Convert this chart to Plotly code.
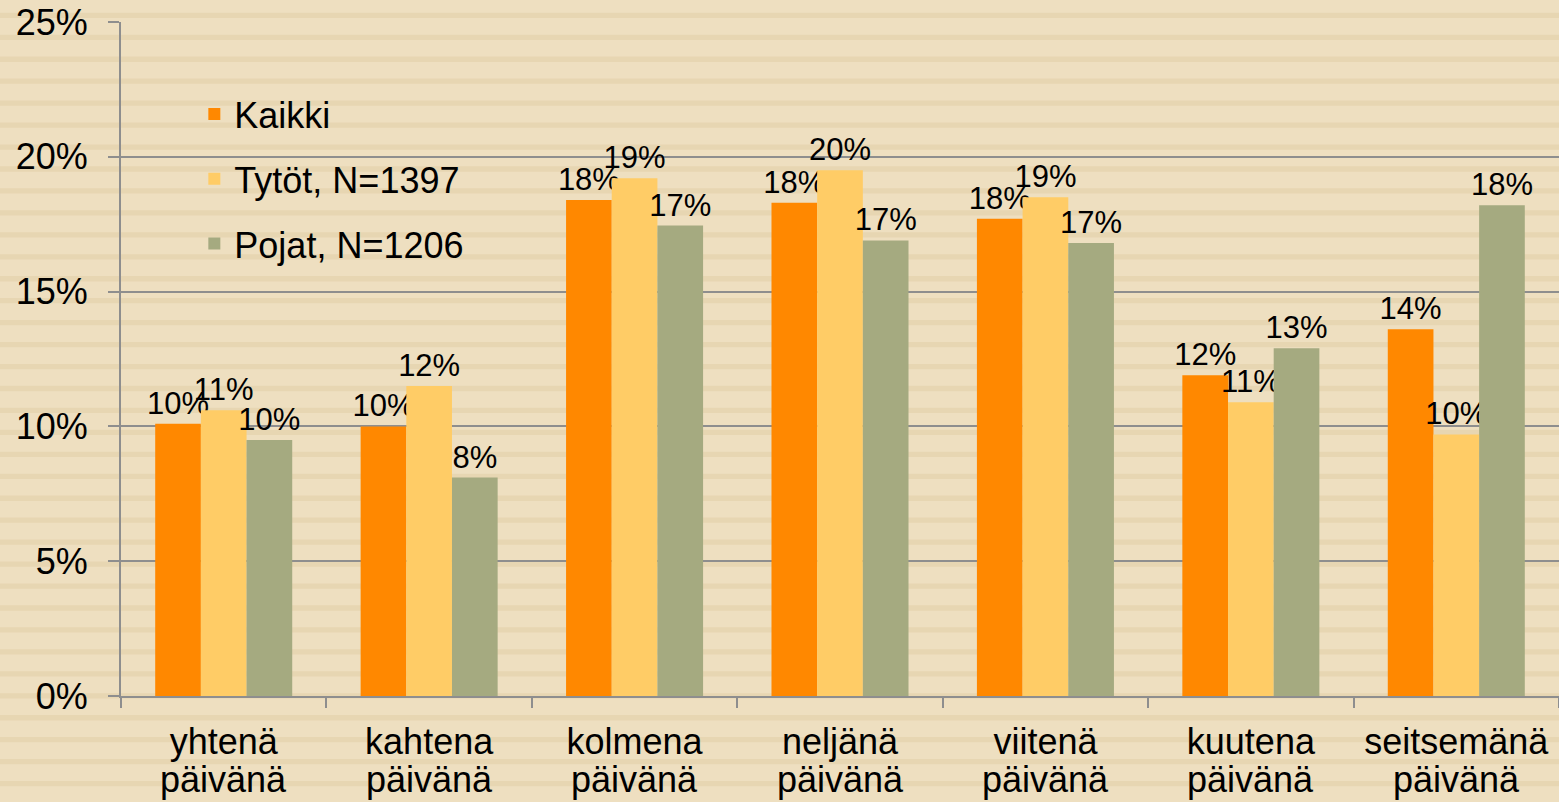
import plotly.graph_objects as go

# kuinka monena päivänä viikossa, osuus vastaajista (%)
categories = ['yhtenä', 'kahtena', 'kolmena', 'neljänä', 'viitenä', 'kuutena', 'seitsemänä']
second_line = 'päivänä'
kaikki = [10.1, 10.0, 18.4, 18.3, 17.7, 11.9, 13.6]
tytot = [10.6, 11.5, 19.2, 19.5, 18.5, 10.9, 9.7]
pojat = [9.5, 8.1, 17.45, 16.9, 16.8, 12.9, 18.2]
series_names = ['Kaikki', 'Tytöt, N=1397', 'Pojat, N=1206']
colors = ['#FF8800', '#FFCC66', '#A5AA80']
ytick_vals = [0, 5, 10, 15, 20, 25]

W, H = 1559, 802
ML, MR, MT, MB = 121, 0, 22, 106
FONT = 'Arial, Liberation Sans, sans-serif'
GRID = '#8E8E8E'

fig = go.Figure()
for name, vals, col in zip(series_names, [kaikki, tytot, pojat], colors):
    fig.add_trace(go.Bar(
        x=categories, y=vals, name=name, legendgroup=name,
        marker=dict(color=col, line=dict(width=0)),
        texttemplate='%{y:.0f}%', textposition='outside',
        constraintext='none', cliponaxis=False,
        textfont=dict(size=31, color='black', family=FONT),
    ))

# striped background (decoration)
plot_h = H - MT - MB
stripes = []
y = 12.7
while y < H:
    stripes.append(dict(
        type='rect', xref='paper', yref='paper', layer='below',
        x0=-1, x1=2,
        y0=(H - MB - y) / plot_h, y1=(H - MB - y - 5.3) / plot_h,
        fillcolor='#E7D6B2', line=dict(width=0),
    ))
    y += 21.95

# second line of the category labels
for c in categories:
    fig.add_annotation(x=c, xref='x', y=0, yref='paper', yanchor='top',
                       text=second_line, showarrow=False, yshift=-61,
                       font=dict(size=36))

fig.update_layout(
    width=W, height=H,
    margin=dict(l=ML, r=MR, t=MT, b=MB, pad=0),
    paper_bgcolor='#EEDFC0', plot_bgcolor='rgba(0,0,0,0)',
    font=dict(family=FONT, size=36, color='black'),
    barmode='group', bargap=0.333, bargroupgap=0,
    shapes=stripes,
    legend=dict(x=0.051, y=0.908, xanchor='left', yanchor='top',
                bgcolor='rgba(0,0,0,0)', borderwidth=0,
                traceorder='grouped', tracegroupgap=15,
                font=dict(size=36)),
    xaxis=dict(
        type='category', tickson='boundaries', ticks='outside', ticklen=10,
        tickwidth=2, tickcolor=GRID, showline=True, linecolor=GRID, linewidth=2,
        showgrid=False, tickfont=dict(size=36), ticklabelstandoff=13,
    ),
    yaxis=dict(
        range=[0, 25], tickmode='array', tickvals=ytick_vals,
        ticktext=['%d%%' % v for v in ytick_vals],
        showgrid=True, gridcolor=GRID, gridwidth=2,
        showline=True, linecolor=GRID, linewidth=2, zeroline=False,
        ticks='outside', ticklen=11, tickwidth=2, tickcolor=GRID,
        tickfont=dict(size=36), ticklabelstandoff=13,
    ),
)

fig.write_html('out.html', config={'displayModeBar': False},
               post_script="document.body.style.margin='0';")
